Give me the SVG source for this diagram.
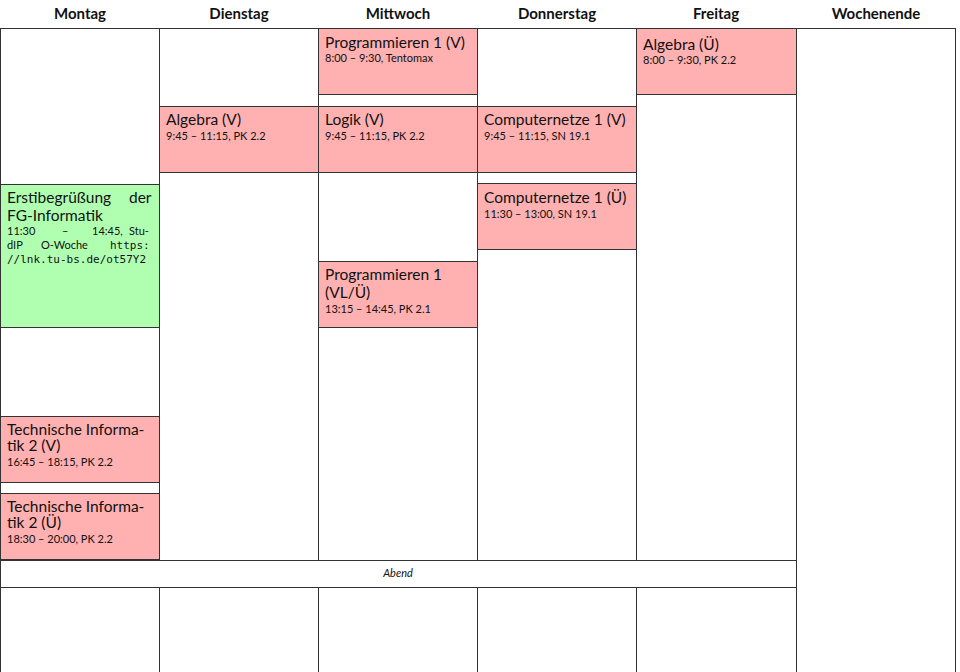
<svg xmlns="http://www.w3.org/2000/svg" width="960" height="672" viewBox="0 0 960 672">
<style>
.hd{font-family:Lato,"Open Sans",sans-serif;font-size:15px;font-weight:bold;text-anchor:middle;fill:#111}
.col{fill:#fff;stroke:#333;stroke-width:1}
.ev{fill:#ffb0b0;stroke:#333;stroke-width:1}
.gr{fill:#b0ffb0;stroke:#333;stroke-width:1}
.t{font-family:Lato,"Open Sans",sans-serif;font-size:15.5px;fill:#111}
.s{font-family:Lato,"Open Sans",sans-serif;font-size:11px;fill:#111}
.m{font-family:"DejaVu Sans Mono",monospace;font-size:11px;fill:#111}
.ab{font-family:Lato,"Open Sans",sans-serif;font-size:11px;font-style:italic;text-anchor:middle;fill:#111}
</style>
<rect width="960" height="672" fill="#fff"/>
<g id="header">
<text class="hd" x="80" y="19">Montag</text>
<text class="hd" x="239" y="19">Dienstag</text>
<text class="hd" x="398" y="19">Mittwoch</text>
<text class="hd" x="557" y="19">Donnerstag</text>
<text class="hd" x="716" y="19">Freitag</text>
<text class="hd" x="876" y="19">Wochenende</text>
</g>
<g id="grid">
<rect class="col" x="0.5" y="28.5" width="159" height="532"/>
<rect class="col" x="159.5" y="28.5" width="159" height="532"/>
<rect class="col" x="318.5" y="28.5" width="159" height="532"/>
<rect class="col" x="477.5" y="28.5" width="159" height="532"/>
<rect class="col" x="636.5" y="28.5" width="160" height="532"/>
<rect class="col" x="796.5" y="28.5" width="159" height="645"/>
<rect class="col" x="0.5" y="560.5" width="796" height="27"/>
<text class="ab" x="398" y="577">Abend</text>
<rect class="col" x="0.5" y="587.5" width="159" height="86"/>
<rect class="col" x="159.5" y="587.5" width="159" height="86"/>
<rect class="col" x="318.5" y="587.5" width="159" height="86"/>
<rect class="col" x="477.5" y="587.5" width="159" height="86"/>
<rect class="col" x="636.5" y="587.5" width="160" height="86"/>
<line x1="318.5" y1="106.5" x2="477.5" y2="106.5" stroke="#333"/>
<line x1="477.5" y1="183.5" x2="636.5" y2="183.5" stroke="#333"/>
</g>
<g id="mo-erst">
<rect class="gr" x="0.5" y="184.5" width="159" height="143"/>
<text class="t" x="7" y="203">Erstibegrüßung<tspan x="129">der</tspan></text>
<text class="t" x="7" y="221">FG-Informatik</text>
<text class="s" x="7" y="235">11:30<tspan x="62">–</tspan><tspan x="92">14:45,</tspan><tspan x="129">Stu-</tspan></text>
<text class="s" x="7" y="249">dIP<tspan x="41">O-Woche</tspan></text>
<text class="m" x="110" y="249">https:</text>
<text class="m" x="7" y="263">//lnk.tu-bs.de/ot57Y2</text>
</g>
<g id="mo-ti2v">
<rect class="ev" x="0.5" y="416.5" width="159" height="66"/>
<text class="t" x="7" y="435">Technische Informa-</text>
<text class="t" x="7" y="451">tik 2 (V)</text>
<text class="s" x="7" y="466">16:45 – 18:15, PK 2.2</text>
</g>
<g id="mo-ti2u">
<rect class="ev" x="0.5" y="493.5" width="159" height="66"/>
<text class="t" x="7" y="512">Technische Informa-</text>
<text class="t" x="7" y="528">tik 2 (Ü)</text>
<text class="s" x="7" y="543">18:30 – 20:00, PK 2.2</text>
</g>
<g id="di-alg">
<rect class="ev" x="159.5" y="106.5" width="159" height="66"/>
<text class="t" x="166" y="125">Algebra (V)</text>
<text class="s" x="166" y="140">9:45 – 11:15, PK 2.2</text>
</g>
<g id="mi-prog">
<rect class="ev" x="318.5" y="28.5" width="159" height="66"/>
<text class="t" x="325" y="48">Programmieren 1 (V)</text>
<text class="s" x="325" y="62">8:00 – 9:30, Tentomax</text>
</g>
<g id="mi-logik">
<rect class="ev" x="318.5" y="106.5" width="159" height="66"/>
<text class="t" x="325" y="125">Logik (V)</text>
<text class="s" x="325" y="140">9:45 – 11:15, PK 2.2</text>
</g>
<g id="mi-prog2">
<rect class="ev" x="318.5" y="261.5" width="159" height="66"/>
<text class="t" x="325" y="280">Programmieren 1</text>
<text class="t" x="325" y="298">(VL/Ü)</text>
<text class="s" x="325" y="313">13:15 – 14:45, PK 2.1</text>
</g>
<g id="do-cnv">
<rect class="ev" x="477.5" y="106.5" width="159" height="66"/>
<text class="t" x="484" y="125">Computernetze 1 (V)</text>
<text class="s" x="484" y="140">9:45 – 11:15, SN 19.1</text>
</g>
<g id="do-cnu">
<rect class="ev" x="477.5" y="183.5" width="159" height="66"/>
<text class="t" x="484" y="203">Computernetze 1 (Ü)</text>
<text class="s" x="484" y="218">11:30 – 13:00, SN 19.1</text>
</g>
<g id="fr-alg">
<rect class="ev" x="636.5" y="28.5" width="160" height="66"/>
<text class="t" x="643" y="50">Algebra (Ü)</text>
<text class="s" x="643" y="64">8:00 – 9:30, PK 2.2</text>
</g>
</svg>
